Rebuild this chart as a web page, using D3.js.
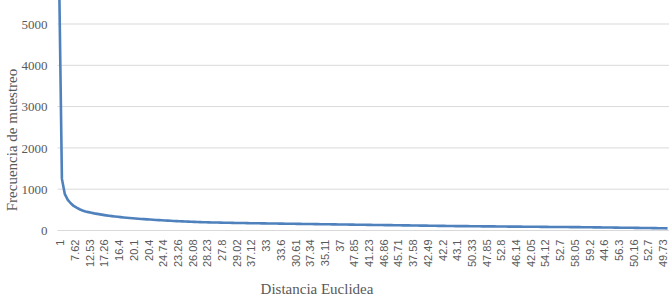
<!DOCTYPE html>
<html><head><meta charset="utf-8">
<script src="https://cdn.jsdelivr.net/npm/d3@7"></script>
<style>body{margin:0;background:#fff;overflow:hidden}svg{display:block}</style>
</head><body><svg id="c" width="669" height="298"></svg>
<script>
const frequencies = [
6400,1250,880,740,660,595,552,515,485,460,
445,430,415,402,390,378,367,357,348,340,
332,324,316,309,302,296,290,285,280,275,
270,265,260,255,251,247,243,239,235,231,
227,224,221,218,215,212,209,206,203,200,
198,197,195,194,192,191,189,188,186,185,
183,182,181,180,178,177,176,175,174,173,
172,171,170,169,168,167,166,165,164,163,
162,161,160,159,158,157,156,155,154,153,
152,151,150,149,148,147,146,145,144,143,
142,141,140,139,138,137,136,135,134,133,
132,131,130,129,128,127,126,125,124,123,
122,121,120,119,118,117,116,115,114,113,
112,111,110,109,108,107,107,106,105,105,
104,103,103,102,101,101,100,99,99,98,
97,97,96,95,95,94,93,93,92,91,
91,90,89,89,88,87,87,86,85,85,
84,84,83,83,82,82,81,81,80,79,
78,77,76,75,75,74,73,72,71,70,
69,68,67,66,66,65,64,63,62,61,
60,59,58,57,56,55,54,52];
const tickLabels = ["1","7.62","12.53","17.26","16.4","20.1","20.4","24.74","23.26","26.08",
"28.23","27.8","29.02","37.12","33","33.6","30.61","37.34","35.11","37",
"47.85","41.23","46.86","45.71","37.58","42.49","42.2","43.1","50.33","47.85",
"52.8","46.14","42.05","54.12","52.7","58.05","59.2","44.6","56.3","50.16",
"52.7","49.73"];
const labelStep = 5;
const yTicks = [0,1000,2000,3000,4000,5000,6000];
const yTitle = "Frecuencia de muestreo";
const xTitle = "Distancia Euclidea";

const svg = d3.select("#c");
const mLeft = 57.5, mRight = 669, mTop = -17.3, mBottom = 230.5;
const idx = d3.range(frequencies.length);
const x = d3.scaleBand().domain(idx).range([mLeft, mRight]);
const y = d3.scaleLinear().domain([0, 6000]).range([mBottom, mTop]);
const serif = "'Liberation Serif', 'Times New Roman', serif";

// gridlines
svg.append("g").selectAll("line").data(yTicks).join("line")
  .attr("x1", mLeft).attr("x2", mRight)
  .attr("y1", d => y(d)).attr("y2", d => y(d))
  .attr("stroke", "#d9d9d9").attr("stroke-width", 1);

// y axis labels
const yAxis = d3.axisLeft(y).tickValues(yTicks.filter(d => d < 6000))
  .tickFormat(d3.format("d")).tickSize(0).tickPadding(10);
const gy = svg.append("g").attr("transform", `translate(${mLeft},0)`).call(yAxis);
gy.select(".domain").remove();
gy.attr("font-family", null);
gy.selectAll("text").style("font-family", serif)
  .style("font-size", "13px").attr("fill", "#595959");

// x axis labels
const xAxis = d3.axisBottom(x)
  .tickValues(idx.filter(i => i % labelStep === 0))
  .tickFormat(i => tickLabels[i / labelStep])
  .tickSize(0);
const gx = svg.append("g").attr("transform", `translate(0,${mBottom})`).call(xAxis);
gx.select(".domain").remove();
gx.selectAll("text")
  .style("font-family", "'Liberation Sans', Arial, sans-serif")
  .style("font-size", "11px").attr("fill", "#595959")
  .attr("text-anchor", "end")
  .attr("transform", "rotate(-90)")
  .attr("x", -9).attr("y", 1.5).attr("dy", "0.35em");

// line
const line = d3.line().x((d, i) => x(i) + x.bandwidth() / 2).y(d => y(d));
svg.append("path").datum(frequencies).attr("d", line)
  .attr("fill", "none").attr("stroke", "#4f81bd").attr("stroke-width", 2.6)
  .attr("stroke-linejoin", "round");

// titles
svg.append("text").text(yTitle)
  .attr("transform", "translate(17,140) rotate(-90)")
  .attr("text-anchor", "middle")
  .style("font-family", serif)
  .style("font-size", "15px").attr("fill", "#595959");
svg.append("text").text(xTitle)
  .attr("x", 317).attr("y", 294)
  .attr("text-anchor", "middle")
  .style("font-family", serif)
  .style("font-size", "15px").attr("fill", "#595959");
</script></body></html>
